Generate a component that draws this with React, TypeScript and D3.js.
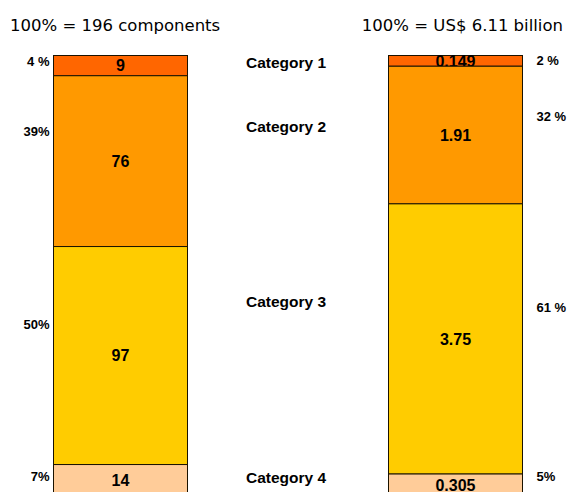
import React from "react";
import * as d3 from "d3";

// Segment categories, top to bottom
const categories = ["Category 1", "Category 2", "Category 3", "Category 4"];
const categoryColors = ["#FF6600", "#FF9900", "#FFCC00", "#FFCC99"];

// Left bar: number of components per category
const componentCounts = [9, 76, 97, 14];
const componentPctLabels = ["4 %", "39%", "50%", "7%"];
const componentValueLabels = ["9", "76", "97", "14"];

// Right bar: value in US$ billion per category
const valueBillions = [0.149, 1.91, 3.75, 0.305];
const valuePctLabels = ["2 %", "32 %", "61 %", "5%"];
const valueValueLabels = ["0.149", "1.91", "3.75", "0.305"];

const titles = ["100% = 196 components", "100% = US$ 6.11 billion"];
const barKeys = ["components", "value"];

// Text anchors, expressed in percent of the bar height (0 = top, 100 = bottom)
const categoryLabelAt = [2.9, 17.4, 57.2, 97.0];
const leftPctLabelAt = [2.3, 18.2, 62.0, 96.6];
const rightPctLabelAt = [2.2, 14.8, 58.3, 96.5];

const W = 571;
const H = 492;

export default function App() {
  const top = 55.5;
  const barHeight = 440.5;

  const x = d3
    .scaleBand<string>()
    .domain(barKeys)
    .range([53.5, 522.5])
    .paddingInner(0.6)
    .paddingOuter(0);

  const pct = d3.scaleLinear().domain([0, 100]).range([top, top + barHeight]);

  const makeStack = (values: number[]) => {
    const total = d3.sum(values);
    const y = d3.scaleLinear().domain([0, total]).range([top, top + barHeight]);
    let acc = 0;
    return values.map((v) => {
      const y0 = y(acc);
      acc += v;
      const y1 = y(acc);
      return { y0, y1 };
    });
  };

  const bars = [
    { key: barKeys[0], stack: makeStack(componentCounts), labels: componentValueLabels },
    { key: barKeys[1], stack: makeStack(valueBillions), labels: valueValueLabels },
  ];

  const bw = x.bandwidth();
  const leftX = x(barKeys[0])!;
  const rightX = x(barKeys[1])!;
  const midX = (leftX + bw + rightX) / 2 - 2;

  const boldFont = "'Liberation Sans', Arial, Helvetica, sans-serif";

  return (
    <svg
      width={W}
      height={H}
      style={{ position: "absolute", left: 0, top: 0, display: "block", background: "#fff" }}
    >
      <text x={10} y={31} fontFamily="'DejaVu Sans', Verdana, sans-serif" fontSize={16.5} fill="#000">
        {titles[0]}
      </text>
      <text
        x={563}
        y={31}
        textAnchor="end"
        fontFamily="'DejaVu Sans', Verdana, sans-serif"
        fontSize={16.5}
        fill="#000"
      >
        {titles[1]}
      </text>

      {bars.map((b) => (
        <g key={b.key}>
          {b.stack.map((s, i) => (
            <g key={i}>
              <rect
                x={x(b.key)!}
                y={s.y0}
                width={bw}
                height={s.y1 - s.y0}
                fill={categoryColors[i]}
                stroke="#1a1200"
                strokeWidth={1}
              />
              <text
                x={x(b.key)! + bw / 2}
                y={(s.y0 + s.y1) / 2}
                dy="0.36em"
                textAnchor="middle"
                fontFamily={boldFont}
                fontWeight="bold"
                fontSize={16}
                fill="#000"
              >
                {b.labels[i]}
              </text>
            </g>
          ))}
        </g>
      ))}

      {categories.map((c, i) => (
        <text
          key={c}
          x={midX}
          y={pct(categoryLabelAt[i])}
          textAnchor="middle"
          fontFamily={boldFont}
          fontWeight="bold"
          fontSize={15.5}
          fill="#000"
        >
          {c}
        </text>
      ))}

      {componentPctLabels.map((t, i) => (
        <text
          key={"l" + i}
          x={leftX - 4}
          y={pct(leftPctLabelAt[i])}
          textAnchor="end"
          fontFamily={boldFont}
          fontWeight="bold"
          fontSize={13}
          fill="#000"
        >
          {t}
        </text>
      ))}

      {valuePctLabels.map((t, i) => (
        <text
          key={"r" + i}
          x={rightX + bw + 14}
          y={pct(rightPctLabelAt[i])}
          textAnchor="start"
          fontFamily={boldFont}
          fontWeight="bold"
          fontSize={13}
          fill="#000"
        >
          {t}
        </text>
      ))}
    </svg>
  );
}
